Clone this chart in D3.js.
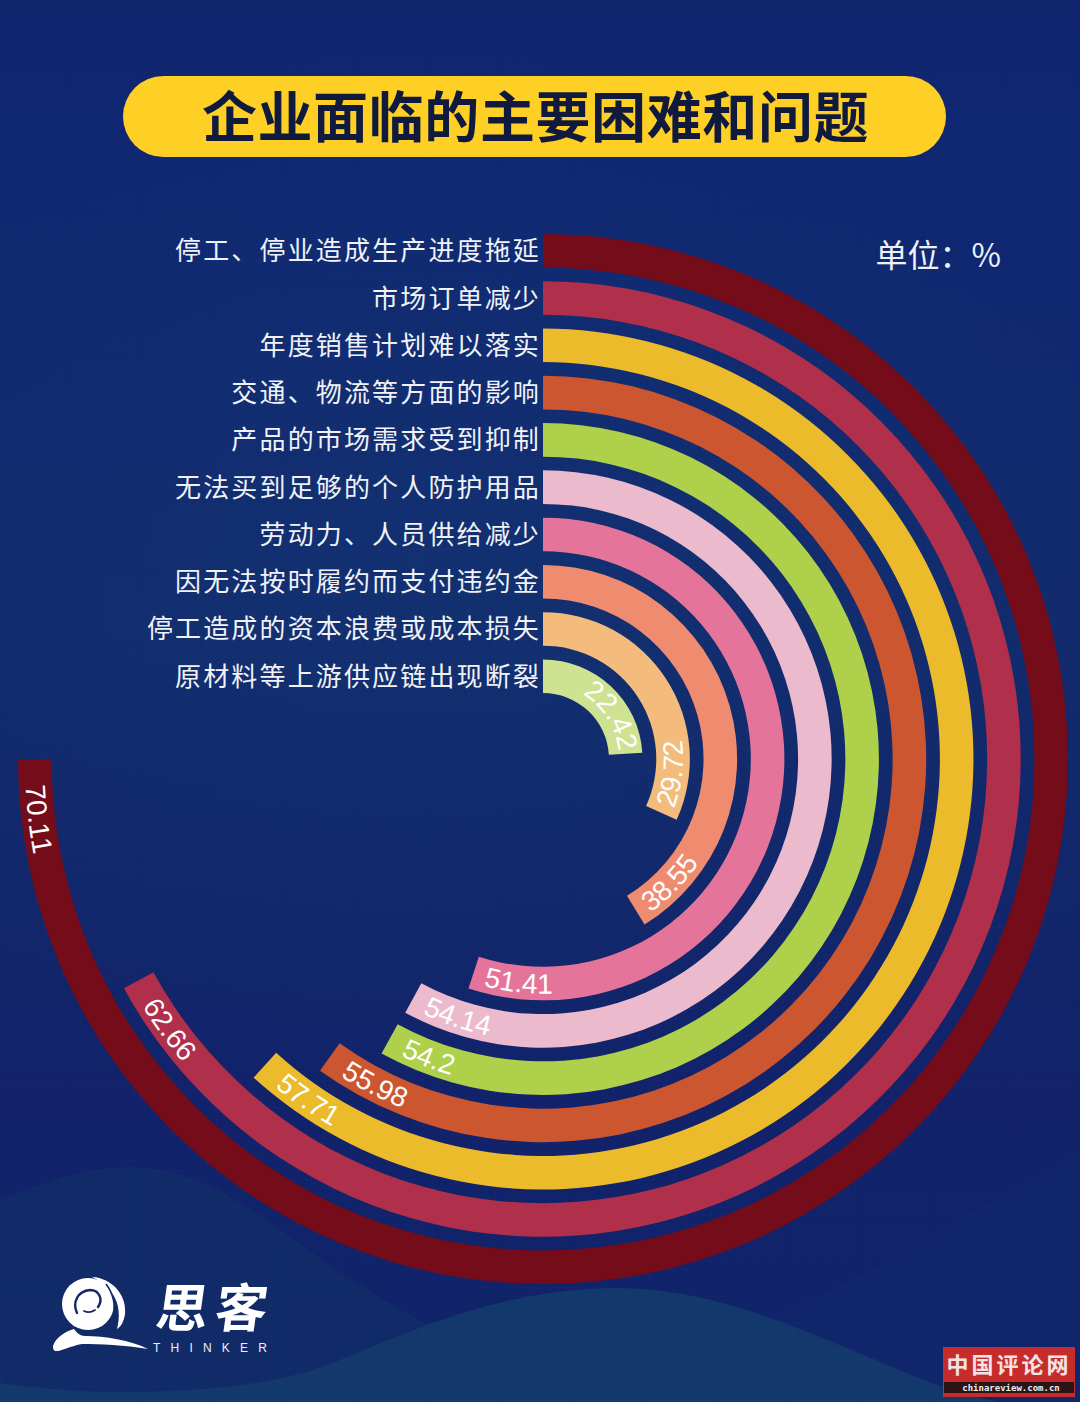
<!DOCTYPE html>
<html><head><meta charset="utf-8">
<script src="https://cdnjs.cloudflare.com/ajax/libs/d3/7.8.5/d3.min.js"></script>
<style>html,body{margin:0;padding:0;background:#10246c;overflow:hidden}svg{display:block}</style>
</head><body><div id="chart"></div>
<script>
const categories = ["停工、停业造成生产进度拖延","市场订单减少","年度销售计划难以落实","交通、物流等方面的影响","产品的市场需求受到抑制","无法买到足够的个人防护用品","劳动力、人员供给减少","因无法按时履约而支付违约金","停工造成的资本浪费或成本损失","原材料等上游供应链出现断裂"];
const values = [70.11,62.66,57.71,55.98,54.2,54.14,51.41,38.55,29.72,22.42];
const colors = ["#740c1a","#b02f4b","#ecbb2b","#cc5630","#afd04a","#ecbacd","#e4749a","#ef8b6f","#f3bc7c","#cfe291"];
const title = "企业面临的主要困难和问题";
const unitText = "单位：%";

const W = 1080, H = 1402, cx = 543, cy = 759;
const cjk = '"Noto Sans CJK SC","Noto Sans",sans-serif';
const svg = d3.select("#chart").append("svg").attr("width",W).attr("height",H).attr("viewBox",`0 0 ${W} ${H}`);
const defs = svg.append("defs");

const bg = defs.append("linearGradient").attr("id","bg").attr("x1",0).attr("x2",0).attr("y1",0).attr("y2",1);
[[0,"#10246e"],[.08,"#0f2672"],[.45,"#112a6c"],[.8,"#11226a"],[1,"#10246a"]].forEach(s=>bg.append("stop").attr("offset",s[0]).attr("stop-color",s[1]));
const glow = defs.append("radialGradient").attr("id","glow").attr("cx",.5).attr("cy",.5).attr("r",.5);
glow.append("stop").attr("offset",0).attr("stop-color","#15407a").attr("stop-opacity",.3);
glow.append("stop").attr("offset",1).attr("stop-color","#15407a").attr("stop-opacity",0);
const pat = defs.append("pattern").attr("id","grid").attr("width",9).attr("height",9).attr("patternUnits","userSpaceOnUse");
pat.append("path").attr("d","M9 0H0V9").attr("fill","none").attr("stroke","#ffffff").attr("stroke-opacity",.014).attr("stroke-width",1);

svg.append("rect").attr("width",W).attr("height",H).attr("fill","url(#bg)");
svg.append("ellipse").attr("cx",420).attr("cy",560).attr("rx",720).attr("ry",520).attr("fill","url(#glow)");
// background waves
svg.append("path").attr("fill","#112a68").attr("d","M0 1200C50 1180 90 1166 135 1167C215 1170 270 1225 340 1272C430 1330 520 1380 640 1402L0 1402Z");
svg.append("path").attr("fill","#122c6c").attr("opacity",.3).attr("d","M760 1320C850 1290 950 1220 1080 1150L1080 1402L760 1402Z");
svg.append("path").attr("fill","#12386c").attr("d","M0 1383C45 1389 90 1393 140 1392C215 1390 280 1385 345 1358C430 1322 510 1290 610 1288C730 1286 830 1345 950 1390C975 1397 990 1400 1000 1402L0 1402Z");
svg.append("rect").attr("width",W).attr("height",H).attr("fill","url(#grid)");

// title
svg.append("rect").attr("x",123).attr("y",76).attr("width",823).attr("height",81).attr("rx",40.5).attr("fill","#fecf25");
svg.append("text").attr("x",535.5).attr("y",137).attr("text-anchor","middle").attr("font-family",cjk).attr("font-weight",700).attr("font-size",55).attr("letter-spacing",.6).attr("fill","#101a3e").text(title);

// unit
svg.append("text").attr("x",1001).attr("y",267).attr("text-anchor","end").attr("font-family",cjk).attr("font-size",32).attr("fill","#eef1f7").text(unitText);

// scales
const angle = d3.scaleLinear().domain([0,d3.max(values)]).range([0,Math.PI*1.5]);
const radius = d3.scaleBand().domain(categories).range([525,66]).paddingInner(.29).paddingOuter(0);
const arc = d3.arc().startAngle(0).endAngle(d=>angle(d.value)).innerRadius(d=>radius(d.cat)).outerRadius(d=>radius(d.cat)+radius.bandwidth());
const rows = categories.map((cat,i)=>({cat,value:values[i],color:colors[i],i}));
const g = svg.append("g").attr("transform",`translate(${cx},${cy})`);

g.selectAll("path.bar").data(rows).join("path").attr("class","bar").attr("d",arc).attr("fill",d=>d.color);

// category labels
g.selectAll("text.cat").data(rows).join("text").attr("class","cat")
  .attr("x",-2).attr("y",d=>-(radius(d.cat)+radius.bandwidth()/2)+9.5)
  .attr("text-anchor","end").attr("font-family",cjk).attr("font-size",26).attr("letter-spacing",2.15)
  .attr("fill","#f0f2f8").text(d=>d.cat);

// value labels follow each band
const labelPath = d=>{
  const mid = radius(d.cat)+radius.bandwidth()/2;
  const end = angle(d.value)-Math.PI/2;
  const p = d3.path();
  if (angle(d.value) < Math.PI/2) { // short bar: reads with the bar direction
    p.arc(0,0,mid-7,-Math.PI/2,end,false);
  } else {
    p.arc(0,0,mid+10,end,-Math.PI/2,true);
  }
  return p.toString();
};
g.selectAll("path.lp").data(rows).join("path").attr("class","lp").attr("id",d=>"lp"+d.i).attr("fill","none").attr("d",labelPath);
g.selectAll("text.val").data(rows).join("text").attr("class","val")
  .attr("font-family",'"Liberation Sans",Arial,sans-serif').attr("font-size",28).attr("fill","#fff")
  .style("font-kerning","none")
  .append("textPath").attr("href",d=>"#lp"+d.i)
  .attr("startOffset",d=>{
    const mid = radius(d.cat)+radius.bandwidth()/2;
    if (angle(d.value) < Math.PI/2) return (mid-7)*angle(d.value)-3;
    return mid*.046+3;
  })
  .attr("text-anchor",d=>angle(d.value) < Math.PI/2 ? "end":"start")
  .text(d=>d.value);

// logo
const logo = svg.append("g");
logo.append("circle").attr("cx",88).attr("cy",1304).attr("r",26).attr("fill","#fff");
logo.append("path").attr("fill","#fff").attr("d","M92 1277C112 1278 127 1295 125 1314C124 1321 121 1327 117 1329C120 1318 120 1304 112 1293C107 1286 100 1281 92 1277Z");
logo.append("path").attr("fill","none").attr("stroke","#11276a").attr("stroke-width",2.4).attr("stroke-linecap","round").attr("d","M77 1313C72 1302 78 1291 90 1290C100 1290 103 1300 98 1307");
logo.append("path").attr("fill","none").attr("stroke","#11276a").attr("stroke-width",1.8).attr("stroke-linecap","round").attr("d","M84 1311C88 1313 92 1312 95 1310");
logo.append("path").attr("fill","none").attr("stroke","#11276a").attr("stroke-width",1.6).attr("d","M106 1284C113 1293 116 1306 113 1320");
logo.append("path").attr("fill","#fff").attr("d","M53 1346C56 1337 66 1331 74 1329C77 1333 80 1336 85 1336C105 1336 130 1340 148 1349C125 1345 100 1344 82 1344C70 1346 60 1352 55 1351C53 1350 53 1348 53 1346Z");
logo.selectAll("text.lg").data(["思","客"]).join("text").attr("class","lg")
  .attr("transform",(d,i)=>`translate(${154+i*59},1327) skewX(-8)`).attr("font-family",cjk).attr("font-weight",700).attr("font-size",52)
  .attr("fill","#fff").text(d=>d);
logo.append("text").attr("x",153).attr("y",1352).attr("font-family",'"Liberation Sans",sans-serif').attr("font-size",12).attr("letter-spacing",10.2).attr("fill","#eef1f7").text("THINKER");

// watermark
const wm = svg.append("g");
wm.append("rect").attr("x",943).attr("y",1347).attr("width",132).attr("height",50).attr("fill","#c62c2c");
wm.append("rect").attr("x",944).attr("y",1382).attr("width",130).attr("height",11).attr("fill","#2a1418");
wm.append("text").attr("x",1009).attr("y",1373).attr("text-anchor","middle").attr("font-family",cjk).attr("font-weight",700).attr("font-size",22).attr("letter-spacing",3).attr("fill","#f3e3e3").text("中国评论网");
wm.append("text").attr("x",1011).attr("y",1391).attr("text-anchor","middle").attr("font-family",'"DejaVu Sans Mono",monospace').attr("font-weight",700).attr("font-size",9).attr("fill","#eee").text("chinareview.com.cn");
</script></body></html>
